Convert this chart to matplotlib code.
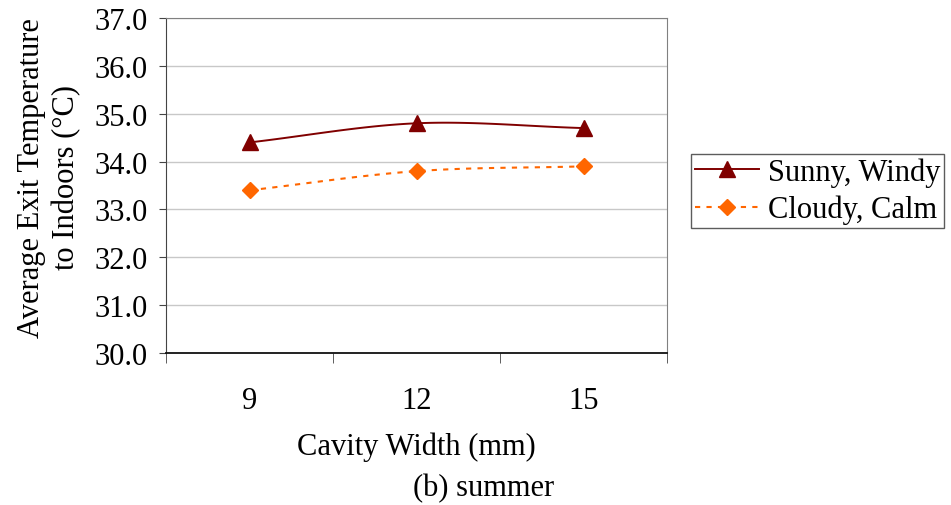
import numpy as np
import matplotlib
matplotlib.use('Agg')
import matplotlib.pyplot as plt
from matplotlib.lines import Line2D

plt.rcParams['font.family'] = ['Liberation Serif', 'DejaVu Serif']

widths = ['9', '12', '15']
sunny = [34.4, 34.8, 34.7]
cloudy = [33.4, 33.8, 33.9]
yticks = [30.0, 31.0, 32.0, 33.0, 34.0, 35.0, 36.0, 37.0]


def smooth(x, y, n=40):
    # catmull-rom style curve through the points, like excel's smoothed line
    x = np.asarray(x, float)
    y = np.asarray(y, float)
    px = np.concatenate([[2 * x[0] - x[1]], x, [2 * x[-1] - x[-2]]])
    py = np.concatenate([[2 * y[0] - y[1]], y, [2 * y[-1] - y[-2]]])
    xs, ys = [], []
    for i in range(1, len(px) - 2):
        t = np.linspace(0, 1, n)
        for p, out in ((px, xs), (py, ys)):
            p0, p1, p2, p3 = p[i - 1], p[i], p[i + 1], p[i + 2]
            out.extend(0.5 * ((2 * p1) + (-p0 + p2) * t +
                              (2 * p0 - 5 * p1 + 4 * p2 - p3) * t ** 2 +
                              (-p0 + 3 * p1 - 3 * p2 + p3) * t ** 3))
    return np.array(xs), np.array(ys)


fs = 22
fig = plt.figure(figsize=(9.51, 5.06), dpi=100)
ax = fig.add_axes([166 / 951, 1 - 354 / 506, (667 - 166) / 951, (354 - 19) / 506])

pos = np.arange(len(widths))
sx, sy = smooth(pos, sunny)
cx, cy = smooth(pos, cloudy)
ax.plot(sx, sy, color='#800000', lw=1.4)
ax.plot(pos, sunny, ls='none', marker='^', ms=11, color='#800000')
ax.plot(cx, cy, color='#FF6600', lw=1.5, ls=(0, (2.5, 3)))
ax.plot(pos, cloudy, ls='none', marker='D', ms=8, color='#FF6600')

ax.set_xlim(-0.5, 2.5)
ax.set_ylim(30, 37)
ax.set_yticks(yticks)
ax.set_yticklabels(['%.1f' % v for v in yticks], fontsize=fs)
ax.set_xticks(pos)
ax.set_xticklabels(widths, fontsize=fs)
ax.tick_params(axis='x', length=0, pad=24)
ax.set_xticks([-0.5, 0.5, 1.5, 2.5], minor=True)
ax.tick_params(axis='x', which='minor', length=7, direction='out', color='#444444')
ax.tick_params(axis='y', length=5, direction='out', color='#444444', pad=8)
ax.grid(axis='y', color='#c8c8c8', lw=1)
ax.set_axisbelow(True)
for s in ['top', 'right']:
    ax.spines[s].set_color('#808080')
ax.spines['left'].set_color('#444444')
ax.spines['bottom'].set_color('#111111')
ax.spines['bottom'].set_linewidth(1.3)

fig.text(49 / 951, 1 - 178 / 506, 'Average Exit Temperature\nto Indoors (°C)', fontsize=fs,
         rotation=90, ha='center', va='center', linespacing=1.25, multialignment='center')
ax.set_xlabel('Cavity Width (mm)', fontsize=fs, labelpad=12)
fig.text(484 / 951, 1 - 489 / 506, '(b) summer', fontsize=fs, ha='center', va='center')

handles = [Line2D([], [], color='#800000', lw=1.4, marker='^', ms=11),
           Line2D([], [], color='#FF6600', lw=1.5, ls=(0, (2.5, 3)), marker='D', ms=8)]
leg = fig.legend(handles, ['Sunny, Windy', 'Cloudy, Calm'], loc='upper left',
                 bbox_to_anchor=(691 / 951, 1 - 155 / 506), fontsize=fs, frameon=True,
                 fancybox=False, edgecolor='#333333', handlelength=2.1,
                 borderpad=0.12, labelspacing=0.25, handletextpad=0.3, borderaxespad=0)
leg.get_frame().set_linewidth(1)

fig.savefig('out.png', dpi=100)
